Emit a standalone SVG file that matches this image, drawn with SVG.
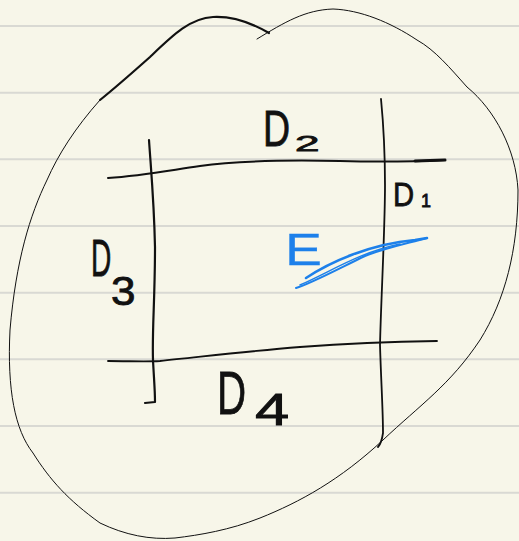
<svg xmlns="http://www.w3.org/2000/svg" width="519" height="541" viewBox="0 0 519 541">
<style>
.rule{stroke:#d9d9d3;stroke-width:2;fill:none}
.ink{stroke:#111;fill:none;stroke-linecap:round;stroke-linejoin:round}
.lbl{font-family:"Liberation Sans",Arial,sans-serif;fill:#111;stroke:#111;stroke-width:0.8}
.blue{stroke:#1d80ea;fill:none;stroke-linecap:round;stroke-linejoin:round}
</style>
<rect width="519" height="541" fill="#f7f6e9"/>
<g id="rules">
<line class="rule" x1="0" y1="26" x2="519" y2="26"/>
<line class="rule" x1="0" y1="92.7" x2="519" y2="92.7"/>
<line class="rule" x1="0" y1="159.3" x2="519" y2="159.3"/>
<line class="rule" x1="0" y1="226" x2="519" y2="226"/>
<line class="rule" x1="0" y1="292.7" x2="519" y2="292.7"/>
<line class="rule" x1="0" y1="359.3" x2="519" y2="359.3"/>
<line class="rule" x1="0" y1="426" x2="519" y2="426"/>
<line class="rule" x1="0" y1="492.7" x2="519" y2="492.7"/>
</g>
<g id="region">
<path class="ink" stroke-width="2.2" d="M269,33 C250,22 232,16 213,17 C190,18 172,36 150,57 C132,73 115,88 100,100"/>
<path class="ink" stroke-width="1" d="M100,100 C75,128 58,155 47,180 C30,215 16,260 10,330 C7,390 15,430 33,453 C50,480 68,500 100,523 C125,535 150,540 175,538 C200,535 230,530 260,518 C300,502 340,480 383,440 C420,405 450,385 480,340 C505,300 518,250 518,190 C516,150 495,110 467,87 C450,68 435,50 417,40 C390,22 360,10 333,9 C305,10 285,22 257,39"/>
</g>
<g id="connectors">
<path class="ink" stroke-width="2" d="M108,178 C140,176 160,172 200,166 C240,160 290,160 340,161 C380,162 405,162 445,160"/>
<path class="ink" stroke-width="3" d="M415,161 L445,160"/>
<path class="ink" stroke-width="2.2" d="M149,140 C151,170 154,200 155,247 C155,300 152,330 153,360 C154,380 155,390 155,402 L145,403"/>
<path class="ink" stroke-width="1.8" d="M381,99 C384,130 385,160 385,185 C385,230 381,300 380,345 C381,380 383,410 383,433 C382,440 380,445 378,447"/>
<path class="ink" stroke-width="1.8" d="M108,361 C130,361 145,362 160,361 C200,357 250,351 300,347 C340,344 370,342 437,341"/>
</g>
<g id="D2">
<text class="lbl" transform="translate(263,146) scale(0.75,1)" font-size="50">D</text>
<text class="lbl" transform="translate(295,151) scale(2,1)" font-size="22">2</text>
</g>
<g id="D1">
<text class="lbl" transform="translate(393,206) scale(0.86,1)" font-size="34">D</text>
<text class="lbl" transform="translate(421,207)" font-size="18">1</text>
</g>
<g id="D3">
<text class="lbl" transform="translate(91,276) scale(0.54,1)" font-size="52">D</text>
<text class="lbl" transform="translate(111,305) scale(1.1,1)" font-size="40">3</text>
</g>
<g id="D4">
<text class="lbl" transform="translate(217,414) scale(0.65,1)" font-size="62">D</text>
<text class="lbl" transform="translate(255,425) scale(1.4,1)" font-size="44">4</text>
</g>
<g id="E">
<text class="lbl" transform="translate(285,265) scale(1.26,1)" font-size="44" style="fill:#1d80ea;stroke:#1d80ea;stroke-width:0.3">E</text>
<path class="blue" stroke-width="2.5" d="M306,278 C330,262 370,244 415,240 L427,238"/>
<path class="blue" stroke-width="2" d="M296,288 C310,284 340,268 365,256 C385,248 405,244 427,238"/>
<path class="blue" stroke-width="1.5" d="M300,285 C330,272 360,252 400,244"/>
</g>
</svg>
